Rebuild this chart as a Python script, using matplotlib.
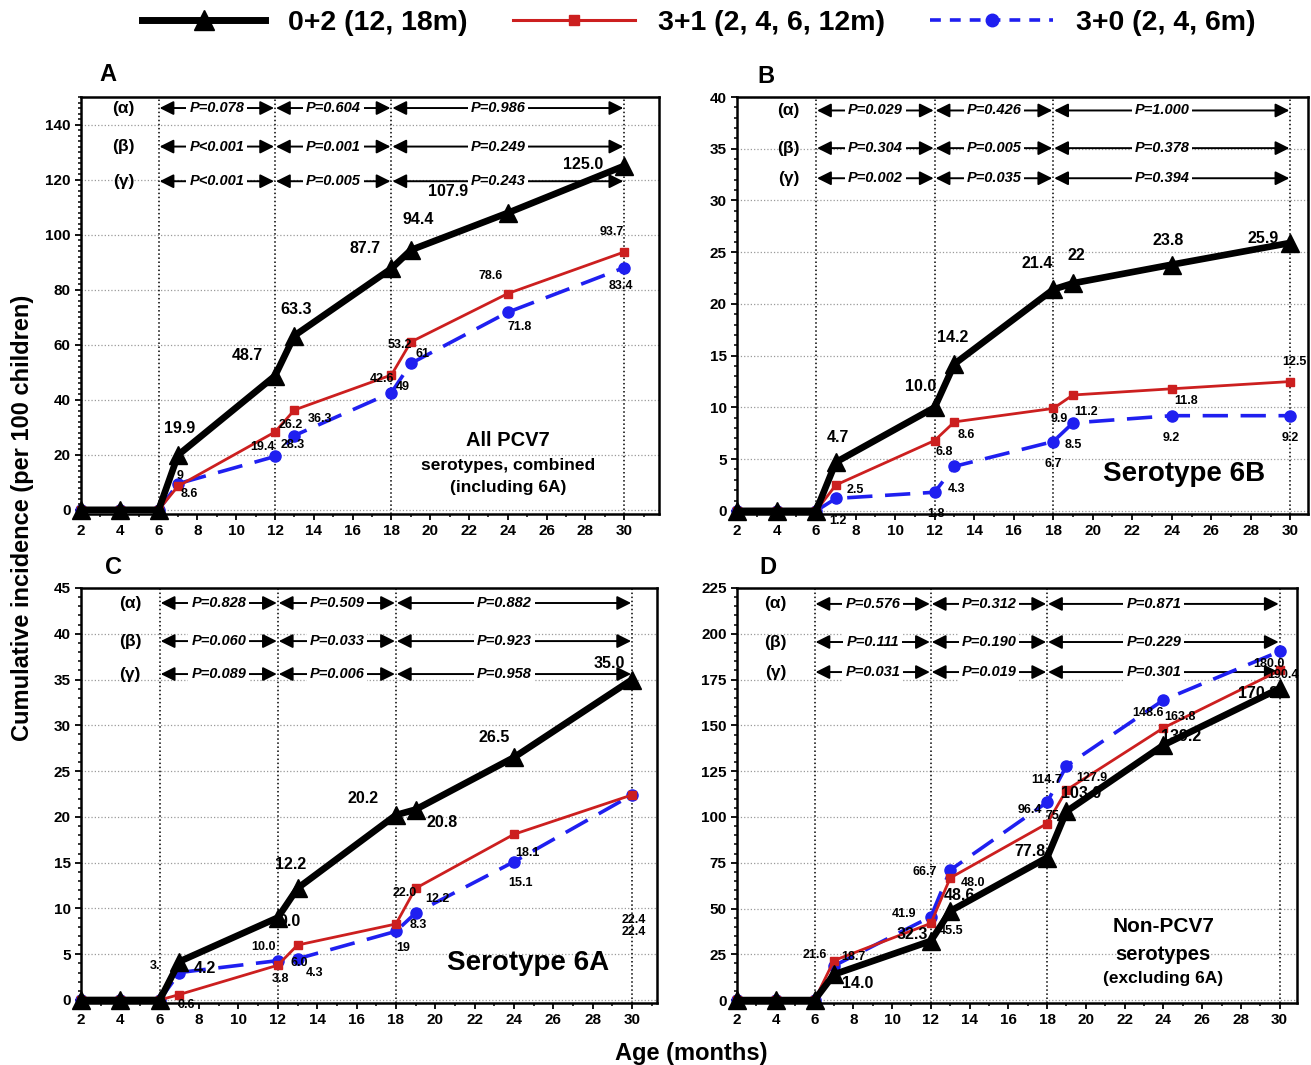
import matplotlib.pyplot as plt
from matplotlib.lines import Line2D
from matplotlib.ticker import MultipleLocator

plt.rcParams['font.family'] = ['Liberation Sans', 'DejaVu Sans']
plt.rcParams['font.weight'] = 'bold'

# ages (months) at which cumulative incidence is shown
ages = [2, 4, 6, 7, 12, 13, 18, 19, 24, 30]

# A: all PCV7 serotypes
a_02 = [0, 0, 0, 19.9, 48.7, 63.3, 87.7, 94.4, 107.9, 125.0]
a_31 = [0, 0, 0, 8.6, 28.3, 36.3, 49.0, 61.0, 78.6, 93.7]
a_30 = [0, 0, 0, 9.5, 19.4, 27.0, 42.6, 53.2, 71.8, 88.0]
# B: serotype 6B
b_02 = [0, 0, 0, 4.7, 10.0, 14.2, 21.4, 22.0, 23.8, 25.9]
b_31 = [0, 0, 0, 2.5, 6.8, 8.6, 9.9, 11.2, 11.8, 12.5]
b_30 = [0, 0, 0, 1.2, 1.8, 4.3, 6.7, 8.5, 9.2, 9.2]
# C: serotype 6A
c_02 = [0, 0, 0, 4.2, 9.0, 12.2, 20.2, 20.8, 26.5, 35.0]
c_31 = [0, 0, 0, 0.6, 3.8, 6.0, 8.3, 12.2, 18.1, 22.4]
c_30 = [0, 0, 0, 3.0, 4.3, 4.5, 7.5, 9.5, 15.1, 22.4]
# D: non-PCV7 serotypes
d_02 = [0, 0, 0, 14.0, 32.3, 48.6, 77.8, 103.0, 139.2, 170.2]
d_31 = [0, 0, 0, 21.6, 41.9, 66.7, 96.4, 114.7, 148.6, 180.0]
d_30 = [0, 0, 0, 18.7, 45.5, 71.0, 108.0, 127.9, 163.8, 190.4]

# p-values: rows alpha, beta, gamma; columns 6-12, 12-18, 18-30 months
pA = [['P=0.078', 'P=0.604', 'P=0.986'],
      ['P<0.001', 'P=0.001', 'P=0.249'],
      ['P<0.001', 'P=0.005', 'P=0.243']]
pB = [['P=0.029', 'P=0.426', 'P=1.000'],
      ['P=0.304', 'P=0.005', 'P=0.378'],
      ['P=0.002', 'P=0.035', 'P=0.394']]
pC = [['P=0.828', 'P=0.509', 'P=0.882'],
      ['P=0.060', 'P=0.033', 'P=0.923'],
      ['P=0.089', 'P=0.006', 'P=0.958']]
pD = [['P=0.576', 'P=0.312', 'P=0.871'],
      ['P=0.111', 'P=0.190', 'P=0.229'],
      ['P=0.031', 'P=0.019', 'P=0.301']]
row_names = ['(α)', '(β)', '(γ)']
segments = [(6, 12), (12, 18), (18, 30)]
seg_text_x = [9, 15, 23.5]

# data labels as printed in the figure: (text, x, y, big?)
labels_A = [('19.9', 7.1, 29.6, 1), ('48.7', 10.6, 56.2, 1), ('63.3', 13.1, 72.9, 1),
            ('87.7', 16.65, 94.9, 1), ('94.4', 19.4, 105.5, 1), ('107.9', 20.9, 115.8, 1),
            ('125.0', 27.9, 125.6, 1),
            ('9', 7.1, 12.2, 0), ('8.6', 7.6, 5.9, 0), ('26.2', 12.8, 31.0, 0),
            ('36.3', 14.3, 33.0, 0), ('19.4', 11.37, 23.0, 0), ('28.3', 12.92, 23.7, 0),
            ('42.6', 17.5, 47.6, 0), ('49', 18.57, 44.8, 0), ('53.2', 18.45, 59.8, 0),
            ('61', 19.62, 56.8, 0), ('78.6', 23.1, 85.0, 0), ('71.8', 24.6, 66.3, 0),
            ('93.7', 29.33, 101.1, 0), ('83.4', 29.85, 81.3, 0)]
labels_B = [('4.7', 7.1, 7.07, 1), ('10.0', 11.3, 12.0, 1), ('14.2', 12.9, 16.8, 1),
            ('21.4', 17.2, 23.9, 1), ('22', 19.16, 24.7, 1), ('23.8', 23.8, 26.1, 1),
            ('25.9', 28.6, 26.3, 1),
            ('12.5', 30.2, 14.4, 0), ('11.8', 24.73, 10.65, 0), ('11.2', 19.68, 9.6, 0),
            ('9.9', 18.3, 8.9, 0), ('8.6', 13.6, 7.36, 0), ('6.8', 12.48, 5.7, 0),
            ('2.5', 7.98, 2.03, 0), ('4.3', 13.1, 2.13, 0), ('8.5', 19.0, 6.4, 0),
            ('6.7', 18.0, 4.55, 0), ('9.2', 23.97, 7.07, 0), ('9.2', 30.0, 7.07, 0),
            ('1.2', 7.11, -0.97, 0), ('1.8', 12.08, -0.3, 0)]
labels_C = [('12.2', 12.66, 14.85, 1), ('9.0', 12.62, 8.55, 1), ('20.2', 16.33, 22.06, 1),
            ('20.8', 20.34, 19.44, 1), ('26.5', 23.0, 28.7, 1), ('35.0', 28.83, 36.7, 1),
            ('4.2', 8.3, 3.46, 1),
            ('10.0', 11.27, 5.75, 0), ('3.', 5.76, 3.71, 0), ('6.0', 13.09, 4.07, 0),
            ('3.8', 12.11, 2.26, 0), ('4.3', 13.89, 2.91, 0), ('0.6', 7.33, -0.55, 0),
            ('22.0', 18.46, 11.65, 0), ('12.2', 20.12, 11.0, 0), ('8.3', 19.14, 8.19, 0),
            ('19', 18.35, 5.64, 0), ('18.1', 24.66, 16.05, 0), ('15.1', 24.31, 12.78, 0),
            ('22.4', 30.1, 8.7, 0), ('22.4', 30.1, 7.4, 0)]
labels_D = [('14.0', 8.25, 9.1, 1), ('32.3', 11.03, 36.0, 1), ('48.6', 13.47, 57.3, 1),
            ('77.8', 17.1, 81.0, 1), ('103.0', 19.77, 112.9, 1), ('139.2', 24.93, 143.8, 1),
            ('170.2', 28.9, 167.5, 1),
            ('21.6', 6.02, 24.6, 0), ('18.7', 7.99, 23.3, 0), ('41.9', 10.6, 46.8, 0),
            ('45.5', 13.03, 37.7, 0), ('48.0', 14.15, 63.7, 0), ('66.7', 11.69, 70.1, 0),
            ('96.4', 17.1, 103.8, 0), ('114.7', 17.95, 120.2, 0), ('75.1', 18.55, 100.5, 0),
            ('127.9', 20.29, 121.1, 0), ('148.6', 23.21, 156.9, 0), ('163.8', 24.84, 154.7, 0),
            ('180.0', 29.45, 183.5, 0), ('190.4', 30.17, 177.5, 0)]

RED = '#cc1f1f'
BLUE = '#1f1ff0'

panels = [
    dict(letter='A', rect=[0.0618, 0.5174, 0.441, 0.3915], xlim=(2, 31.8), ylim=(-1.5, 150),
         ymaj=20, ymin=2, series=(a_02, a_31, a_30), p=pA, rows=[146, 132, 119.4], rowx=4.2,
         labels=labels_A, letterpos=(0.0824, 0.9296)),
    dict(letter='B', rect=[0.5622, 0.5174, 0.4356, 0.3915], xlim=(2, 30.9), ylim=(-0.3, 40),
         ymaj=5, ymin=1, series=(b_02, b_31, b_30), p=pB, rows=[38.7, 35.06, 32.15], rowx=4.6,
         labels=labels_B, letterpos=(0.5843, 0.9277)),
    dict(letter='C', rect=[0.0618, 0.0582, 0.4394, 0.3897], xlim=(2, 31.27), ylim=(-0.33, 45),
         ymaj=5, ymin=1, series=(c_02, c_31, c_30), p=pC, rows=[43.36, 39.2, 35.6], rowx=4.5,
         labels=labels_C, letterpos=(0.0862, 0.4667)),
    dict(letter='D', rect=[0.5622, 0.0582, 0.4272, 0.3897], xlim=(2, 30.9), ylim=(-1.6, 225),
         ymaj=25, ymin=5, series=(d_02, d_31, d_30), p=pD, rows=[216.3, 195.5, 179.1], rowx=4.0,
         labels=labels_D, letterpos=(0.5858, 0.4667)),
]

fig = plt.figure(figsize=(13.11, 10.65), dpi=100)

for pan in panels:
    ax = fig.add_axes(pan['rect'])
    s02, s31, s30 = pan['series']
    ax.plot(ages, s30, color=BLUE, lw=2.6, dashes=[7, 3.5], marker='o', ms=8,
            zorder=5, clip_on=False)
    ax.plot(ages, s31, color=RED, lw=2, marker='s', ms=6, zorder=6, clip_on=False)
    ax.plot(ages, s02, color='black', lw=4.8, marker='^', ms=12.5, zorder=7, clip_on=False)

    ax.set_xlim(*pan['xlim'])
    ax.set_ylim(*pan['ylim'])
    ax.xaxis.set_major_locator(MultipleLocator(2))
    ax.xaxis.set_minor_locator(MultipleLocator(1))
    ax.yaxis.set_major_locator(MultipleLocator(pan['ymaj']))
    ax.yaxis.set_minor_locator(MultipleLocator(pan['ymin']))
    ax.tick_params(labelsize=11, width=1.3, length=4)
    ax.tick_params(which='minor', width=1.1, length=2.5)
    ax.yaxis.grid(True, linestyle=':', color='#9a9a9a', lw=0.9)
    ax.set_axisbelow(True)
    for sp in ax.spines.values():
        sp.set_linewidth(1.8)
        sp.set_zorder(9)

    for xv in [6, 12, 18, 30]:
        ax.axvline(xv, color='black', ls=':', lw=1.1, zorder=1)

    # p-value rows
    for r, yr in enumerate(pan['rows']):
        ax.text(pan['rowx'], yr, row_names[r], ha='center', va='center', fontsize=12.5,
                zorder=3)
        for k, (x0, x1) in enumerate(segments):
            ax.annotate('', xy=(x0 + 0.05, yr), xytext=(x1 - 0.05, yr),
                        arrowprops=dict(arrowstyle='<|-|>,head_length=0.7,head_width=0.35',
                                        color='black', lw=1.4, mutation_scale=12,
                                        shrinkA=0, shrinkB=0), zorder=2)
            ax.text(seg_text_x[k], yr, pan['p'][r][k], ha='center', va='center',
                    fontsize=10.5, style='italic', zorder=3,
                    bbox=dict(boxstyle='square,pad=0.2', fc='white', ec='none'))

    for txt, xv, yv, big in pan['labels']:
        ax.text(xv, yv, txt, ha='center', va='center', fontsize=11.5 if big else 9,
                zorder=8)

    fig.text(pan['letterpos'][0], pan['letterpos'][1], pan['letter'], ha='center',
             va='center', fontsize=17)

    if pan['letter'] == 'A':
        ax.text(24.0, 25.3, 'All PCV7', ha='center', va='center', fontsize=14.5)
        ax.text(24.0, 16.1, 'serotypes, combined', ha='center', va='center', fontsize=12.5)
        ax.text(24.0, 8.1, '(including 6A)', ha='center', va='center', fontsize=12.5)
    elif pan['letter'] == 'B':
        ax.text(24.63, 3.58, 'Serotype 6B', ha='center', va='center', fontsize=20)
    elif pan['letter'] == 'C':
        ax.text(24.71, 4.04, 'Serotype 6A', ha='center', va='center', fontsize=20)
    else:
        ax.text(24.0, 40.4, 'Non-PCV7', ha='center', va='center', fontsize=15)
        ax.text(24.0, 25.1, 'serotypes', ha='center', va='center', fontsize=14.5)
        ax.text(24.0, 12.0, '(excluding 6A)', ha='center', va='center', fontsize=12.5)

handles = [Line2D([], [], color='black', lw=5, marker='^', ms=14),
           Line2D([], [], color=RED, lw=2.2, marker='s', ms=7),
           Line2D([], [], color=BLUE, lw=2.6, dashes=[3, 2.5], marker='o', ms=9)]
fig.legend(handles, ['0+2 (12, 18m)', '3+1 (2, 4, 6, 12m)', '3+0 (2, 4, 6m)'],
           loc='center', bbox_to_anchor=(0.533, 0.978), ncol=3, frameon=False,
           fontsize=20.5, handlelength=4.3, handletextpad=0.8, columnspacing=1.6,
           numpoints=1)

fig.text(0.017, 0.5136, 'Cumulative incidence (per 100 children)', rotation=90,
         ha='center', va='center', fontsize=17)
fig.text(0.527, 0.011, 'Age (months)', ha='center', va='center', fontsize=17)

fig.savefig('out.png', dpi=100)
